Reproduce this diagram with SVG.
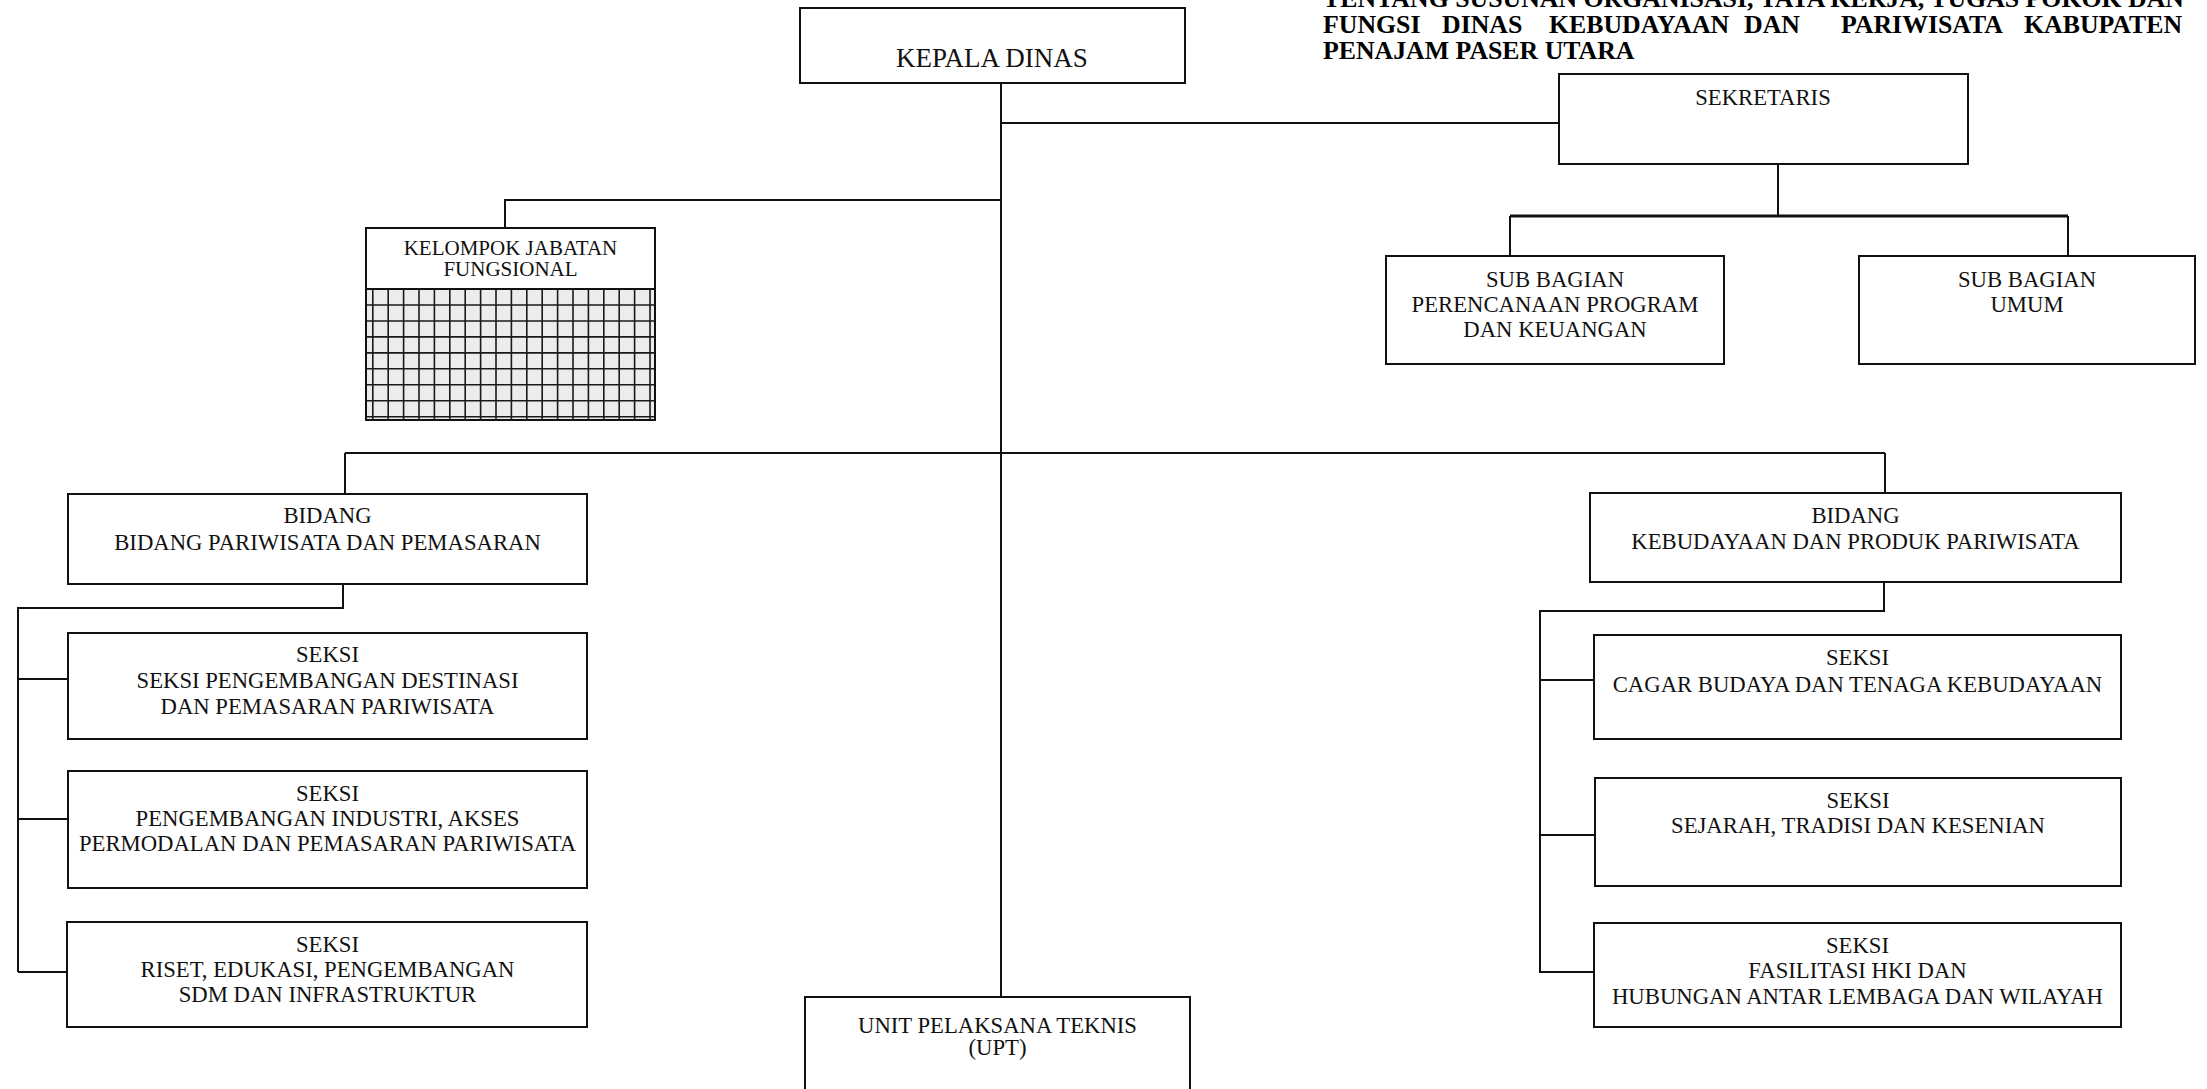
<svg xmlns="http://www.w3.org/2000/svg" width="2207" height="1089" viewBox="0 0 2207 1089">
<style>
.box{fill:#fff;stroke:#111;stroke-width:2}
.ln{fill:none;stroke:#111;stroke-width:2}
.t{font-family:"Liberation Serif","Times New Roman",serif;font-size:22.7px;fill:#111;text-anchor:middle}
.ttl{font-family:"Liberation Serif","Times New Roman",serif;font-size:25.8px;font-weight:bold;fill:#000}
.grid{fill:none;stroke:#1a1a1a;stroke-width:1.6}
</style>
<rect width="2207" height="1089" fill="#fff"/>

<g id="title">
<text class="ttl" x="1323" y="7" textLength="861" lengthAdjust="spacing">TENTANG SUSUNAN ORGANISASI, TATA KERJA, TUGAS POKOK DAN</text>
<text class="ttl" y="33"><tspan x="1323">FUNGSI</tspan><tspan x="1442">DINAS</tspan><tspan x="1549">KEBUDAYAAN</tspan><tspan x="1744">DAN</tspan><tspan x="1841">PARIWISATA</tspan><tspan x="2024">KABUPATEN</tspan></text>
<text class="ttl" x="1323" y="59">PENAJAM PASER UTARA</text>
</g>

<g id="connectors">
<path class="ln" d="M1001 83 V997"/>
<path class="ln" d="M1001 123 H1559"/>
<path class="ln" d="M1001 200 H505 V228"/>
<path class="ln" d="M1778 164 V216"/>
<path class="ln" d="M1510 216 H2068" style="stroke-width:3.2"/>
<path class="ln" d="M1510 216 V256 M2068 216 V256"/>
<path class="ln" d="M345 453 H1885"/>
<path class="ln" d="M345 453 V494 M1885 453 V493"/>
<path class="ln" d="M343 584 V608 H18 V972"/>
<path class="ln" d="M18 679 H68 M18 819 H68 M18 972 H67"/>
<path class="ln" d="M1884 582 V611 H1540 V973"/>
<path class="ln" d="M1540 680 H1594 M1540 835 H1595 M1540 972 H1594"/>
</g>

<g id="kepala-dinas">
<rect class="box" x="800" y="8" width="385" height="75"/>
<text class="t" x="992" y="67" style="font-size:27px">KEPALA DINAS</text>
</g>

<g id="sekretaris">
<rect class="box" x="1559" y="74" width="409" height="90"/>
<text class="t" x="1763" y="105">SEKRETARIS</text>
</g>

<g id="subbag-ppk">
<rect class="box" x="1386" y="256" width="338" height="108"/>
<text class="t" x="1555" y="287">SUB BAGIAN</text>
<text class="t" x="1555" y="312">PERENCANAAN PROGRAM</text>
<text class="t" x="1555" y="337">DAN KEUANGAN</text>
</g>

<g id="subbag-umum">
<rect class="box" x="1859" y="256" width="336" height="108"/>
<text class="t" x="2027" y="287">SUB BAGIAN</text>
<text class="t" x="2027" y="312">UMUM</text>
</g>

<g id="kelompok-jabatan">
<rect class="box" x="366" y="228" width="289" height="192"/>
<rect x="367" y="289" width="287" height="130" fill="#ececec"/>
<path class="grid" d="M372.8 289V420M388.2 289V420M403.6 289V420M419 289V420M434.4 289V420M449.8 289V420M465.2 289V420M480.6 289V420M496 289V420M511.4 289V420M526.8 289V420M542.2 289V420M557.6 289V420M573 289V420M588.4 289V420M603.8 289V420M619.2 289V420M634.6 289V420M650 289V420M366 305H655M366 321H655M366 336.9H655M366 352.9H655M366 368.8H655M366 384.8H655M366 400.7H655M366 416.7H655"/>
<path class="ln" d="M366 289 H655"/>
<rect x="366" y="228" width="289" height="192" fill="none" stroke="#111" stroke-width="2"/>
<text class="t" x="510.5" y="255" style="font-size:21px">KELOMPOK JABATAN</text>
<text class="t" x="510.5" y="276" style="font-size:21px">FUNGSIONAL</text>
</g>

<g id="bidang-pariwisata">
<rect class="box" x="68" y="494" width="519" height="90"/>
<text class="t" x="327.5" y="523">BIDANG</text>
<text class="t" x="327.5" y="550">BIDANG PARIWISATA DAN PEMASARAN</text>
</g>

<g id="seksi-destinasi">
<rect class="box" x="68" y="633" width="519" height="106"/>
<text class="t" x="327.5" y="662">SEKSI</text>
<text class="t" x="327.5" y="688">SEKSI PENGEMBANGAN DESTINASI</text>
<text class="t" x="327.5" y="714">DAN PEMASARAN PARIWISATA</text>
</g>

<g id="seksi-industri">
<rect class="box" x="68" y="771" width="519" height="117"/>
<text class="t" x="327.5" y="801">SEKSI</text>
<text class="t" x="327.5" y="826">PENGEMBANGAN INDUSTRI, AKSES</text>
<text class="t" x="327.5" y="851">PERMODALAN DAN PEMASARAN PARIWISATA</text>
</g>

<g id="seksi-riset">
<rect class="box" x="67" y="922" width="520" height="105"/>
<text class="t" x="327.5" y="952">SEKSI</text>
<text class="t" x="327.5" y="977">RISET, EDUKASI, PENGEMBANGAN</text>
<text class="t" x="327.5" y="1002">SDM DAN INFRASTRUKTUR</text>
</g>

<g id="bidang-kebudayaan">
<rect class="box" x="1590" y="493" width="531" height="89"/>
<text class="t" x="1855.5" y="523">BIDANG</text>
<text class="t" x="1855.5" y="549">KEBUDAYAAN DAN PRODUK PARIWISATA</text>
</g>

<g id="seksi-cagar-budaya">
<rect class="box" x="1594" y="635" width="527" height="104"/>
<text class="t" x="1857.5" y="665">SEKSI</text>
<text class="t" x="1857.5" y="692">CAGAR BUDAYA DAN TENAGA KEBUDAYAAN</text>
</g>

<g id="seksi-sejarah">
<rect class="box" x="1595" y="778" width="526" height="108"/>
<text class="t" x="1858" y="808">SEKSI</text>
<text class="t" x="1858" y="833">SEJARAH, TRADISI DAN KESENIAN</text>
</g>

<g id="seksi-fasilitasi">
<rect class="box" x="1594" y="923" width="527" height="104"/>
<text class="t" x="1857.5" y="953">SEKSI</text>
<text class="t" x="1857.5" y="978">FASILITASI HKI DAN</text>
<text class="t" x="1857.5" y="1004">HUBUNGAN ANTAR LEMBAGA DAN WILAYAH</text>
</g>

<g id="upt">
<rect class="box" x="805" y="997" width="385" height="110"/>
<text class="t" x="997.5" y="1033">UNIT PELAKSANA TEKNIS</text>
<text class="t" x="997.5" y="1055">(UPT)</text>
</g>
</svg>
